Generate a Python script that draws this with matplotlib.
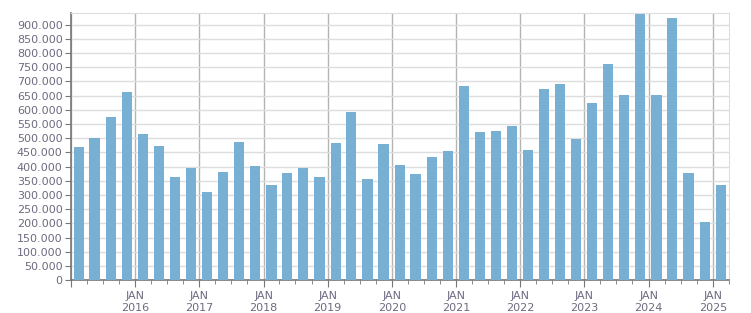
import datetime as dt
import matplotlib
matplotlib.use("Agg")
import matplotlib.pyplot as plt
import matplotlib.dates as mdates
from matplotlib.ticker import FuncFormatter, MultipleLocator

# quarterly values, 2015 Q1 .. 2025 Q1
years = [2015]*4 + [2016]*4 + [2017]*4 + [2018]*4 + [2019]*4 + [2020]*4 + \
        [2021]*4 + [2022]*4 + [2023]*4 + [2024]*4 + [2025]
quarters = [1, 2, 3, 4]*10 + [1]
values = [470000, 502000, 576000, 664000,
          516000, 474000, 365000, 397000,
          311000, 382000, 488000, 404000,
          337000, 379000, 397000, 365000,
          485000, 594000, 358000, 481000,
          407000, 375000, 435000, 456000,
          685000, 523000, 527000, 544000,
          459000, 675000, 692000, 499000,
          625000, 763000, 652000, 939000,
          652000, 925000, 379000, 206000,
          337000]

# bar centred in the middle of each quarter
dates = [dt.date(y, 3*(q-1)+2, 15) for y, q in zip(years, quarters)]

bar_col = "#77b0d3"
txt_col = "#6d6a80"

fig = plt.figure(figsize=(7.51, 3.13), dpi=100)
ax = fig.add_axes([0.0945, 0.1045, 0.8758, 0.853])

ax.bar(dates, values, width=58, color=bar_col, zorder=3)

ax.set_xlim(dt.date(2015, 1, 1), dt.date(2025, 4, 1))
ax.set_ylim(0, 940000)

ax.yaxis.set_major_locator(MultipleLocator(50000))
ax.yaxis.set_major_formatter(FuncFormatter(lambda v, p: f"{int(v):,}".replace(",", ".")))

ax.xaxis.set_major_locator(mdates.YearLocator(1, month=1, day=1))
ax.xaxis.set_major_formatter(FuncFormatter(
    lambda v, p: "JAN\n" + str(mdates.num2date(v).year) if mdates.num2date(v).year > 2015 else ""))
ax.xaxis.set_minor_locator(mdates.MonthLocator(bymonth=[4, 7, 10]))

ax.grid(axis="y", color="#dddddd", lw=1, zorder=0)
ax.grid(axis="x", which="major", color="#b4b4b4", lw=1, zorder=0)

for s in ["top", "right"]:
    ax.spines[s].set_color("#dddddd")
for s in ["left", "bottom"]:
    ax.spines[s].set_color("#777777")
    ax.spines[s].set_linewidth(1.2)

ax.tick_params(axis="y", length=4, color="#777777", labelcolor=txt_col, labelsize=8, pad=2)
ax.tick_params(axis="x", which="major", length=5, color="#777777", labelcolor=txt_col, labelsize=8, pad=3)
ax.tick_params(axis="x", which="minor", length=3, color="#777777")
for lab in ax.get_xticklabels():
    lab.set_horizontalalignment("center")

fig.savefig("out.png", dpi=100)
